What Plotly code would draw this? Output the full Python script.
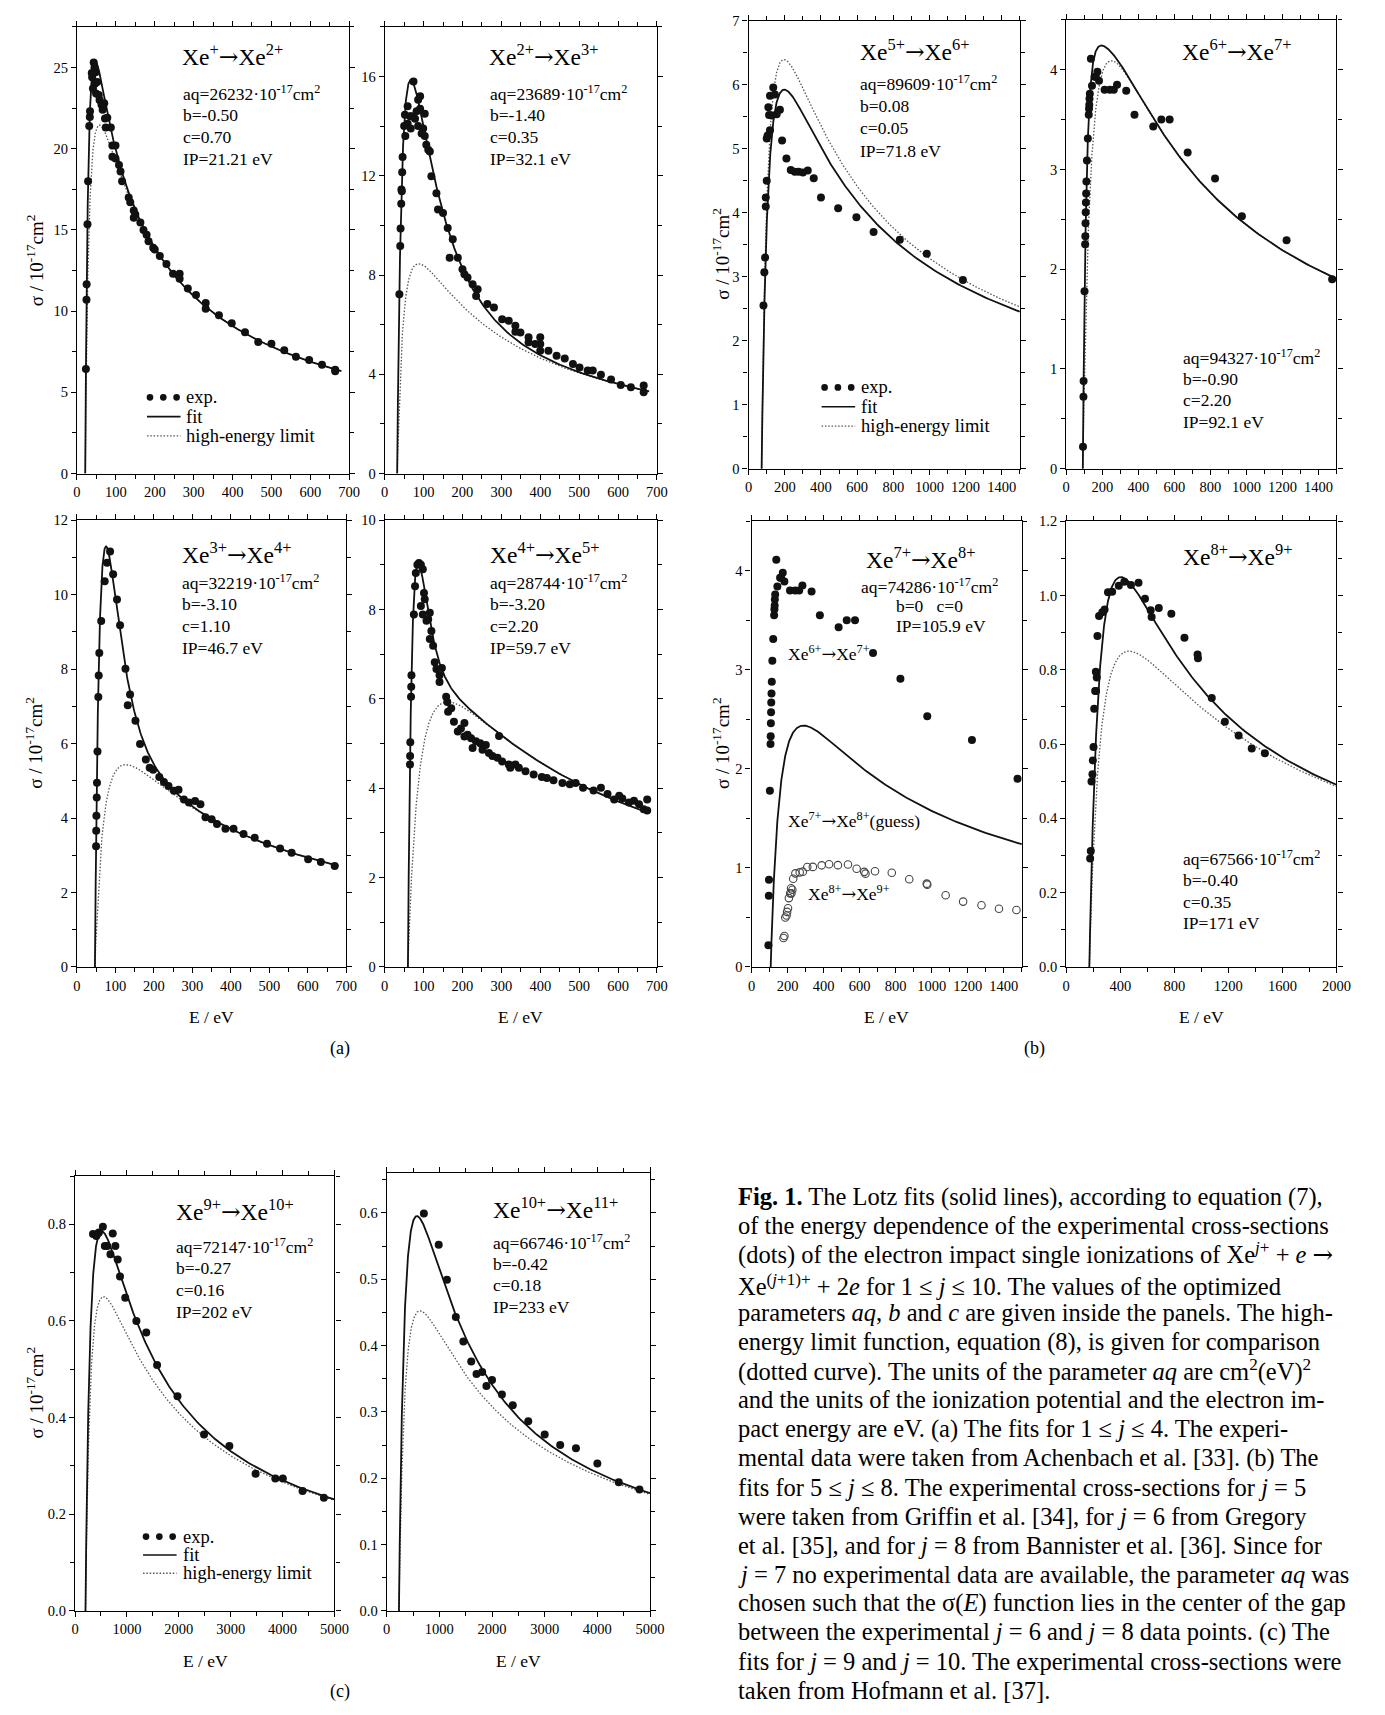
import numpy as np
import plotly.graph_objects as go

W, H = 1385, 1715
SERIF = "Liberation Serif"
ARROW = '<span style="font-family:DejaVu Serif">→</span>'

# ---- Lotz fit parameters, one entry per panel ----
panel_ids = ["a1", "a2", "a3", "a4", "b1", "b2", "b3", "b4", "c1", "c2"]
ion_from = ["+", "2+", "3+", "4+", "5+", "6+", "7+", "8+", "9+", "10+"]
ion_to = ["2+", "3+", "4+", "5+", "6+", "7+", "8+", "9+", "10+", "11+"]
aq_vals = [26232, 23689, 32219, 28744, 89609, 94327, 74286, 67566, 72147, 66746]
b_vals = [-0.50, -1.40, -3.10, -3.20, 0.08, -0.90, 0.0, -0.40, -0.27, -0.42]
c_vals = [0.70, 0.35, 1.10, 2.20, 0.05, 2.20, 0.0, 0.35, 0.16, 0.18]
ip_vals = [21.21, 32.1, 46.7, 59.7, 71.8, 92.1, 105.9, 171, 202, 233]
b_text = ["-0.50", "-1.40", "-3.10", "-3.20", "0.08", "-0.90", "0", "-0.40", "-0.27", "-0.42"]
c_text = ["0.70", "0.35", "1.10", "2.20", "0.05", "2.20", "0", "0.35", "0.16", "0.18"]
ip_text = ["21.21", "32.1", "46.7", "59.7", "71.8", "92.1", "105.9", "171", "202", "233"]
curve_scale = [1, 1, 1, 2, 1, 1, 1, 1, 1, 1]
curve_end = [680, 680, 680, 680, 1500, 1500, 1500, 2000, 5000, 5000]
show_limit = [True, True, True, True, True, True, False, True, True, True]

# ---- experimental cross-sections (E in eV, sigma in 1e-17 cm^2) ----
xe1_E = [23, 24.4, 24.8, 27, 28.5, 31.5, 33, 33.5, 38, 39, 43, 45, 48, 41, 46, 49, 52, 56, 58,
         63, 66, 70, 72, 78, 74, 87, 91, 99, 91, 99, 108, 112, 116, 133, 137, 146, 146, 150, 163,
         171, 179, 184, 196, 200, 213, 230, 247, 264, 264, 285, 306, 331, 331, 365, 398, 432,
         466, 500, 533, 563, 597, 630, 664, 664]
xe1_s = [6.44, 10.7, 11.65, 15.35, 18.0, 21.4, 21.95, 22.3, 24.65, 24.4, 25.3, 25.0, 24.7, 23.7,
         24.0, 23.4, 24.1, 23.3, 23.0, 22.7, 22.4, 22.8, 21.85, 21.9, 21.3, 21.3, 20.2, 20.2,
         19.5, 19.4, 19.0, 18.6, 18.0, 17.0, 16.7, 16.2, 15.75, 15.95, 15.45, 15.0, 14.7, 14.3,
         13.9, 13.8, 13.4, 12.9, 12.3, 12.3, 12.0, 11.4, 11.0, 10.5, 10.15, 9.75, 9.25, 8.7,
         8.1, 8.0, 7.6, 7.2, 7.0, 6.7, 6.4, 6.3]

xe2_E = [37.7, 39.9, 40.8, 43, 44, 42.5, 45, 46, 50, 52, 53, 59, 59, 65, 67, 69, 74, 78, 82, 86,
         91, 86, 91, 95, 99, 103, 103, 107, 112, 116, 120, 133, 137, 150, 162, 167, 175, 188,
         200, 205, 213, 226, 239, 235, 264, 281, 302, 319, 336, 336, 349, 370, 370, 387, 400,
         400, 400, 421, 442, 463, 484, 501, 522, 535, 556, 582, 607, 633, 666, 666]
xe2_s = [7.23, 9.17, 9.87, 11.45, 11.38, 10.87, 12.14, 12.76, 14.0, 14.46, 13.6, 14.1, 14.8,
         14.4, 13.9, 14.4, 15.8, 14.3, 14.6, 15.06, 15.2, 14.0, 14.7, 13.7, 13.9, 14.5, 13.6,
         13.25, 13.05, 12.98, 11.98, 11.3, 10.64, 10.5, 9.9, 8.7, 9.44, 8.7, 8.23, 8.03, 7.9,
         7.63, 7.43, 7.16, 6.83, 6.69, 6.22, 6.16, 5.96, 5.72, 5.69, 5.49, 5.29, 5.22, 5.49,
         4.95, 5.22, 4.95, 4.75, 4.64, 4.42, 4.28, 4.15, 4.15, 3.98, 3.79, 3.57, 3.48, 3.55, 3.28]

xe3_E = [49.6, 50, 50.5, 51.3, 52, 53.3, 55.5, 56.5, 58, 63, 72, 78, 86, 94, 104, 112, 126, 132,
         138, 152, 164, 179, 189, 198, 214, 226, 238, 252, 264, 278, 291, 307, 321, 334, 350,
         364, 386, 407, 433, 462, 494, 528, 558, 601, 634, 670]
xe3_s = [3.24, 3.66, 4.06, 4.55, 4.95, 5.79, 7.25, 7.83, 8.43, 9.29, 10.36, 10.86, 11.16, 10.55,
         9.87, 9.18, 8.01, 7.03, 7.32, 6.61, 5.99, 5.57, 5.35, 5.3, 5.1, 4.97, 4.86, 4.73, 4.76,
         4.5, 4.42, 4.46, 4.37, 4.02, 3.97, 3.84, 3.71, 3.71, 3.57, 3.47, 3.31, 3.18, 3.07,
         2.89, 2.82, 2.71]

xe4_E = [65, 65.3, 65.8, 67.7, 68.2, 68.8, 75, 80, 78, 84, 88, 93, 93, 98, 98, 101, 103, 107.5,
         111.8, 116, 120, 116, 124.5, 128.7, 133, 141, 141, 147, 158, 161, 163, 171, 178, 188,
         196, 205, 205, 213, 222, 226, 234.5, 245.6, 251.5, 260, 268, 277, 294, 290, 302, 319,
         323, 336, 345, 362, 383, 404, 417, 434, 457, 476, 491, 510, 537, 556, 573, 590, 603,
         611, 628, 641, 654, 666, 675, 675]
xe4_s = [4.53, 4.72, 5.03, 6.05, 6.27, 6.53, 7.89, 8.82, 8.52, 9.0, 9.04, 9.0, 8.08, 8.9, 7.89,
         8.37, 8.23, 7.75, 7.78, 7.93, 7.52, 7.34, 7.19, 6.82, 6.67, 6.53, 6.38, 6.69, 6.05,
         5.93, 5.71, 5.79, 5.49, 5.27, 5.34, 5.46, 5.16, 5.2, 5.12, 4.9, 5.05, 5.01, 4.86, 4.97,
         4.79, 4.72, 5.17, 4.68, 4.6, 4.53, 4.46, 4.53, 4.46, 4.38, 4.31, 4.25, 4.23, 4.18,
         4.12, 4.09, 4.12, 4.01, 3.95, 4.01, 3.87, 3.75, 3.83, 3.77, 3.68, 3.72, 3.64, 3.53,
         3.75, 3.5]

xe5_E = [82, 87, 91, 94.5, 94.5, 100, 100, 105, 109, 113, 118, 118, 127, 136, 145, 155, 173,
         185, 209, 233, 255, 276, 300, 327, 360, 400, 495, 596, 691, 836, 985, 1185]
xe5_s = [2.55, 3.07, 3.30, 4.10, 4.24, 4.50, 5.16, 5.21, 5.65, 5.53, 5.29, 5.83, 5.52, 5.96,
         5.85, 5.54, 5.61, 5.13, 4.85, 4.67, 4.64, 4.64, 4.63, 4.66, 4.54, 4.24, 4.07, 3.93,
         3.70, 3.58, 3.36, 2.95]

xe6_E = [93.1, 95.5, 96.4, 101.5, 105, 106, 107, 108, 109, 110.5, 112, 115, 120, 125, 126.5,
         128, 129, 131, 137, 143, 158, 164, 173, 182, 213, 242, 264, 282, 333, 379, 483, 528,
         574, 674, 826, 975, 1223, 1476]
xe6_s = [0.22, 0.72, 0.88, 1.78, 2.25, 2.33, 2.46, 2.57, 2.67, 2.76, 2.88, 3.09, 3.31, 3.55,
         3.61, 3.65, 3.71, 3.76, 4.11, 3.84, 3.93, 3.93, 3.98, 3.89, 3.80, 3.80, 3.80, 3.85,
         3.79, 3.55, 3.43, 3.50, 3.50, 3.17, 2.91, 2.53, 2.29, 1.90]

xe8_E = [177, 182, 187, 194, 197, 202, 207, 214, 221, 219, 226, 231, 243, 267, 284, 309, 340,
         389, 430, 479, 535, 583, 625, 632, 685, 778, 875, 972, 975, 1077, 1174, 1276, 1373, 1470]
xe8_s = [0.292, 0.312, 0.499, 0.519, 0.556, 0.592, 0.695, 0.743, 0.743, 0.795, 0.779, 0.891,
         0.945, 0.955, 0.962, 1.009, 1.010, 1.026, 1.037, 1.028, 1.034, 0.991, 0.960, 0.942,
         0.966, 0.951, 0.886, 0.841, 0.831, 0.724, 0.660, 0.623, 0.588, 0.575]

xe9_E = [347, 411, 430, 461, 537, 575, 620, 683, 727, 778, 823, 867, 968, 1183, 1373, 1582, 1975,
         2487, 2975, 3481, 3861, 4006, 4386, 4797]
xe9_s = [0.780, 0.776, 0.780, 0.783, 0.795, 0.755, 0.755, 0.738, 0.781, 0.755, 0.727, 0.692,
         0.648, 0.600, 0.576, 0.509, 0.444, 0.365, 0.341, 0.284, 0.274, 0.274, 0.248, 0.234]

xe10_E = [706, 988, 1144, 1313, 1456, 1606, 1706, 1813, 1894, 2000, 2188, 2394, 2688, 3000,
          3294, 3594, 4000, 4406, 4800]
xe10_s = [0.599, 0.552, 0.499, 0.443, 0.406, 0.376, 0.357, 0.360, 0.339, 0.348, 0.326, 0.310,
          0.286, 0.266, 0.250, 0.245, 0.222, 0.194, 0.183]

exp_sets = {
    "a1": [(xe1_E, xe1_s, "filled")],
    "a2": [(xe2_E, xe2_s, "filled")],
    "a3": [(xe3_E, xe3_s, "filled")],
    "a4": [(xe4_E, xe4_s, "filled")],
    "b1": [(xe5_E, xe5_s, "filled")],
    "b2": [(xe6_E, xe6_s, "filled")],
    "b3": [(xe6_E, xe6_s, "filled"), (xe8_E, xe8_s, "open")],
    "b4": [(xe8_E, xe8_s, "filled")],
    "c1": [(xe9_E, xe9_s, "filled")],
    "c2": [(xe10_E, xe10_s, "filled")],
}

# ---- axis settings: x range, x label step, x minor step, y range, y step, y minor, format ----
axis_cfg = {
    "a1": ([0, 700], 100, 50, [0, 27.5], 5, 2.5, ""),
    "a2": ([0, 700], 100, 50, [0, 18], 4, 2, ""),
    "a3": ([0, 700], 100, 50, [0, 12], 2, 1, ""),
    "a4": ([0, 700], 100, 50, [0, 10], 2, 1, ""),
    "b1": ([0, 1500], 200, 100, [0, 7], 1, 0.5, ""),
    "b2": ([0, 1500], 200, 100, [0, 4.5], 1, 0.5, ""),
    "b3": ([0, 1500], 200, 100, [0, 4.5], 1, 0.5, ""),
    "b4": ([0, 2000], 400, 200, [0, 1.2], 0.2, 0.1, ".1f"),
    "c1": ([0, 5000], 1000, 500, [0, 0.9], 0.2, 0.1, ".1f"),
    "c2": ([0, 5000], 1000, 500, [0, 0.66], 0.1, 0.05, ".1f"),
}

# plot frames in page pixels: left, right, top, bottom
frames = {
    "a1": (74, 350, 19, 470), "a2": (386, 662, 19, 470),
    "a3": (74, 347, 517, 968), "a4": (386, 662, 517, 968),
    "b1": (755, 1030, 13, 465), "b2": (1077, 1351, 12, 465),
    "b3": (758, 1032, 518, 968), "b4": (1077, 1351, 518, 968),
    "c1": (72, 335, 1179, 1618), "c2": (388, 655, 1176, 1618),
}

# text placement in page pixels: title (x, y), parameter block (x, first line y, line step)
title_pos = {
    "a1": (178, 48), "a2": (490, 48), "a3": (178, 551), "a4": (491, 551),
    "b1": (866, 43), "b2": (1192, 43), "b3": (872, 556), "b4": (1193, 553),
    "c1": (172, 1214), "c2": (494, 1212),
}
param_pos = {
    "a1": (179, 86, 22), "a2": (491, 86, 22), "a3": (178, 579, 22.5), "a4": (491, 579, 22.5),
    "b1": (866, 76, 22.8), "b2": (1193, 352, 22), "b4": (1193, 858, 22),
    "c1": (172, 1250, 22), "c2": (494, 1246, 21.7),
}


def px_x(p):
    return p / W


def px_y(p):
    return 1 - p / H


def lotz(E, aq, b, c, P, k):
    u = E / P
    return k * aq * np.log(u) / (E * P) * (1 - b * np.exp(-c * (u - 1)))


fig = go.Figure()
annotations = []
shapes = []


def label(x, y, text, size, xanchor="left", angle=0):
    annotations.append(dict(
        x=px_x(x), y=px_y(y), xref="paper", yref="paper", xanchor=xanchor,
        yanchor="middle", text=text, showarrow=False, textangle=angle, align="left",
        font=dict(family=SERIF, size=size, color="black")))


for i, pid in enumerate(panel_ids):
    suf = "" if i == 0 else str(i + 1)
    xr, xd, xm, yr, yd, ym, yfmt = axis_cfg[pid]
    L, R, T, B = frames[pid]
    common = dict(showline=True, linecolor="black", linewidth=1.3, mirror="ticks",
                  ticks="outside", ticklen=5, tickwidth=1, tickcolor="black",
                  showgrid=False, zeroline=False,
                  tickfont=dict(family=SERIF, size=14.5, color="black"))
    fig.layout["xaxis" + suf] = dict(
        domain=[px_x(L), px_x(R)], anchor="y" + suf, range=xr, tick0=0, dtick=xd,
        minor=dict(dtick=xm, tick0=0, ticks="outside", ticklen=4, tickwidth=1,
                   tickcolor="black", showgrid=False), **common)
    fig.layout["yaxis" + suf] = dict(
        domain=[px_y(B), px_y(T)], anchor="x" + suf, range=yr, tick0=0, dtick=yd,
        tickformat=yfmt,
        minor=dict(dtick=ym, tick0=0, ticks="outside", ticklen=4, tickwidth=1,
                   tickcolor="black", showgrid=False), **common)

    P = ip_vals[i]
    E = P * (1 + np.concatenate([[0.0], np.logspace(-5, np.log10(curve_end[i] / P - 1), 900)]))
    if show_limit[i]:
        fig.add_trace(go.Scatter(
            x=E, y=lotz(E, aq_vals[i], 0.0, 0.0, P, curve_scale[i]), mode="lines",
            line=dict(color="#555555", width=1.3, dash="1.5px,1.8px"),
            xaxis="x" + suf, yaxis="y" + suf, showlegend=False, hoverinfo="skip"))
    fig.add_trace(go.Scatter(
        x=E, y=lotz(E, aq_vals[i], b_vals[i], c_vals[i], P, curve_scale[i]), mode="lines",
        line=dict(color="#111111", width=1.8),
        xaxis="x" + suf, yaxis="y" + suf, showlegend=False, hoverinfo="skip"))
    for ex, sy, kind in exp_sets[pid]:
        if kind == "filled":
            mk = dict(size=8, color="#111111", line=dict(width=0))
        else:
            mk = dict(size=7.5, color="#444444", symbol="circle-open",
                      line=dict(color="#444444", width=1.1))
        fig.add_trace(go.Scatter(
            x=ex, y=sy, mode="markers", marker=mk, cliponaxis=False,
            xaxis="x" + suf, yaxis="y" + suf, showlegend=False))

    # panel title
    tx, ty = title_pos[pid]
    label(tx, ty, "Xe<sup>%s</sup>%sXe<sup>%s</sup>" % (ion_from[i], ARROW, ion_to[i]), 23.5)

    # fitted parameters
    if pid in param_pos:
        px0, py0, step = param_pos[pid]
        lines = ["aq=%d·10<sup>-17</sup>cm<sup>2</sup>" % aq_vals[i],
                 "b=" + b_text[i], "c=" + c_text[i], "IP=" + ip_text[i] + " eV"]
        for k, t in enumerate(lines):
            label(px0, py0 + k * step, t, 17.5)

# Xe7+ panel: parameters and curve labels
label(867, 583, "aq=74286·10<sup>-17</sup>cm<sup>2</sup>", 17.5)
label(902, 604, "b=0\u00a0\u00a0\u00a0c=0", 17.5)
label(902, 624, "IP=105.9 eV", 17.5)
label(793, 651, "Xe<sup>6+</sup>%sXe<sup>7+</sup>" % ARROW, 17.5)
label(793, 820, "Xe<sup>7+</sup>%sXe<sup>8+</sup>(guess)" % ARROW, 17.5)
label(813, 893, "Xe<sup>8+</sup>%sXe<sup>9+</sup>" % ARROW, 17.5)

# in-panel keys: dots, solid line, dotted line
legend_anchor = [(148, 393, 19.5), (832, 383, 19.5), (144, 1543, 18.5)]
for x0, y0, dy in legend_anchor:
    r = 3.4
    for k in range(3):
        cx = x0 + k * 13.5
        shapes.append(dict(type="circle", xref="paper", yref="paper",
                           x0=px_x(cx - r), x1=px_x(cx + r), y0=px_y(y0 + r), y1=px_y(y0 - r),
                           fillcolor="#111111", line=dict(width=0)))
    shapes.append(dict(type="line", xref="paper", yref="paper",
                       x0=px_x(x0 - 3), x1=px_x(x0 + 31), y0=px_y(y0 + dy), y1=px_y(y0 + dy),
                       line=dict(color="#111111", width=1.6)))
    shapes.append(dict(type="line", xref="paper", yref="paper",
                       x0=px_x(x0 - 3), x1=px_x(x0 + 31), y0=px_y(y0 + 2 * dy),
                       y1=px_y(y0 + 2 * dy),
                       line=dict(color="#555555", width=1.3, dash="1.5px,1.8px")))
    for k, t in enumerate(["exp.", "fit", "high-energy limit"]):
        label(x0 + 35, y0 + k * dy, t, 18.5)

# axis titles
ylab = "σ / 10<sup>-17</sup>cm<sup>2</sup>"
for x0, y0 in [(31, 255), (31, 742), (727, 248), (727, 742), (31, 1398)]:
    label(x0, y0, ylab, 19, xanchor="center", angle=-90)
for x0, y0 in [(210, 1019), (524, 1019), (895, 1019), (1214, 1019), (204, 1669), (522, 1669)]:
    label(x0, y0, "E / eV", 17.5, xanchor="center")
for x0, y0, t in [(341, 1050, "(a)"), (1045, 1050, "(b)"), (341, 1699, "(c)")]:
    label(x0, y0, t, 18, xanchor="center")

# figure caption
caption_lines = [
    "<b>Fig. 1.</b> The Lotz fits (solid lines), according to equation (7),",
    "of the energy dependence of the experimental cross-sections",
    "(dots) of the electron impact single ionizations of Xe<sup><i>j</i>+</sup> + <i>e</i> " + ARROW,
    "Xe<sup>(<i>j</i>+1)+</sup> + 2<i>e</i> for 1 ≤ <i>j</i> ≤ 10. The values of the optimized",
    "parameters <i>aq</i>, <i>b</i> and <i>c</i> are given inside the panels. The high-",
    "energy limit function, equation (8), is given for comparison",
    "(dotted curve). The units of the parameter <i>aq</i> are cm<sup>2</sup>(eV)<sup>2</sup>",
    "and the units of the ionization potential and the electron im-",
    "pact energy are eV. (a) The fits for 1 ≤ <i>j</i> ≤ 4. The experi-",
    "mental data were taken from Achenbach et al. [33]. (b) The",
    "fits for 5 ≤ <i>j</i> ≤ 8. The experimental cross-sections for <i>j</i> = 5",
    "were taken from Griffin et al. [34], for <i>j</i> = 6 from Gregory",
    "et al. [35], and for <i>j</i> = 8 from Bannister et al. [36]. Since for",
    "<i>j</i> = 7 no experimental data are available, the parameter <i>aq</i> was",
    "chosen such that the σ(<i>E</i>) function lies in the center of the gap",
    "between the experimental <i>j</i> = 6 and <i>j</i> = 8 data points. (c) The",
    "fits for <i>j</i> = 9 and <i>j</i> = 10. The experimental cross-sections were",
    "taken from Hofmann et al. [37].",
]
cap_nudge = {2: -1.5, 3: 1.5}
cap_x, cap_y0, cap_dy = 742, 1200, 29.3
for k, t in enumerate(caption_lines):
    label(cap_x, cap_y0 + k * cap_dy + cap_nudge.get(k, 0), t, 24.5)

fig.update_layout(
    width=W, height=H, margin=dict(l=0, r=0, t=0, b=0),
    paper_bgcolor="white", plot_bgcolor="white", showlegend=False,
    annotations=annotations, shapes=shapes,
    font=dict(family=SERIF, color="black"),
)

fig.write_html("out.html")
